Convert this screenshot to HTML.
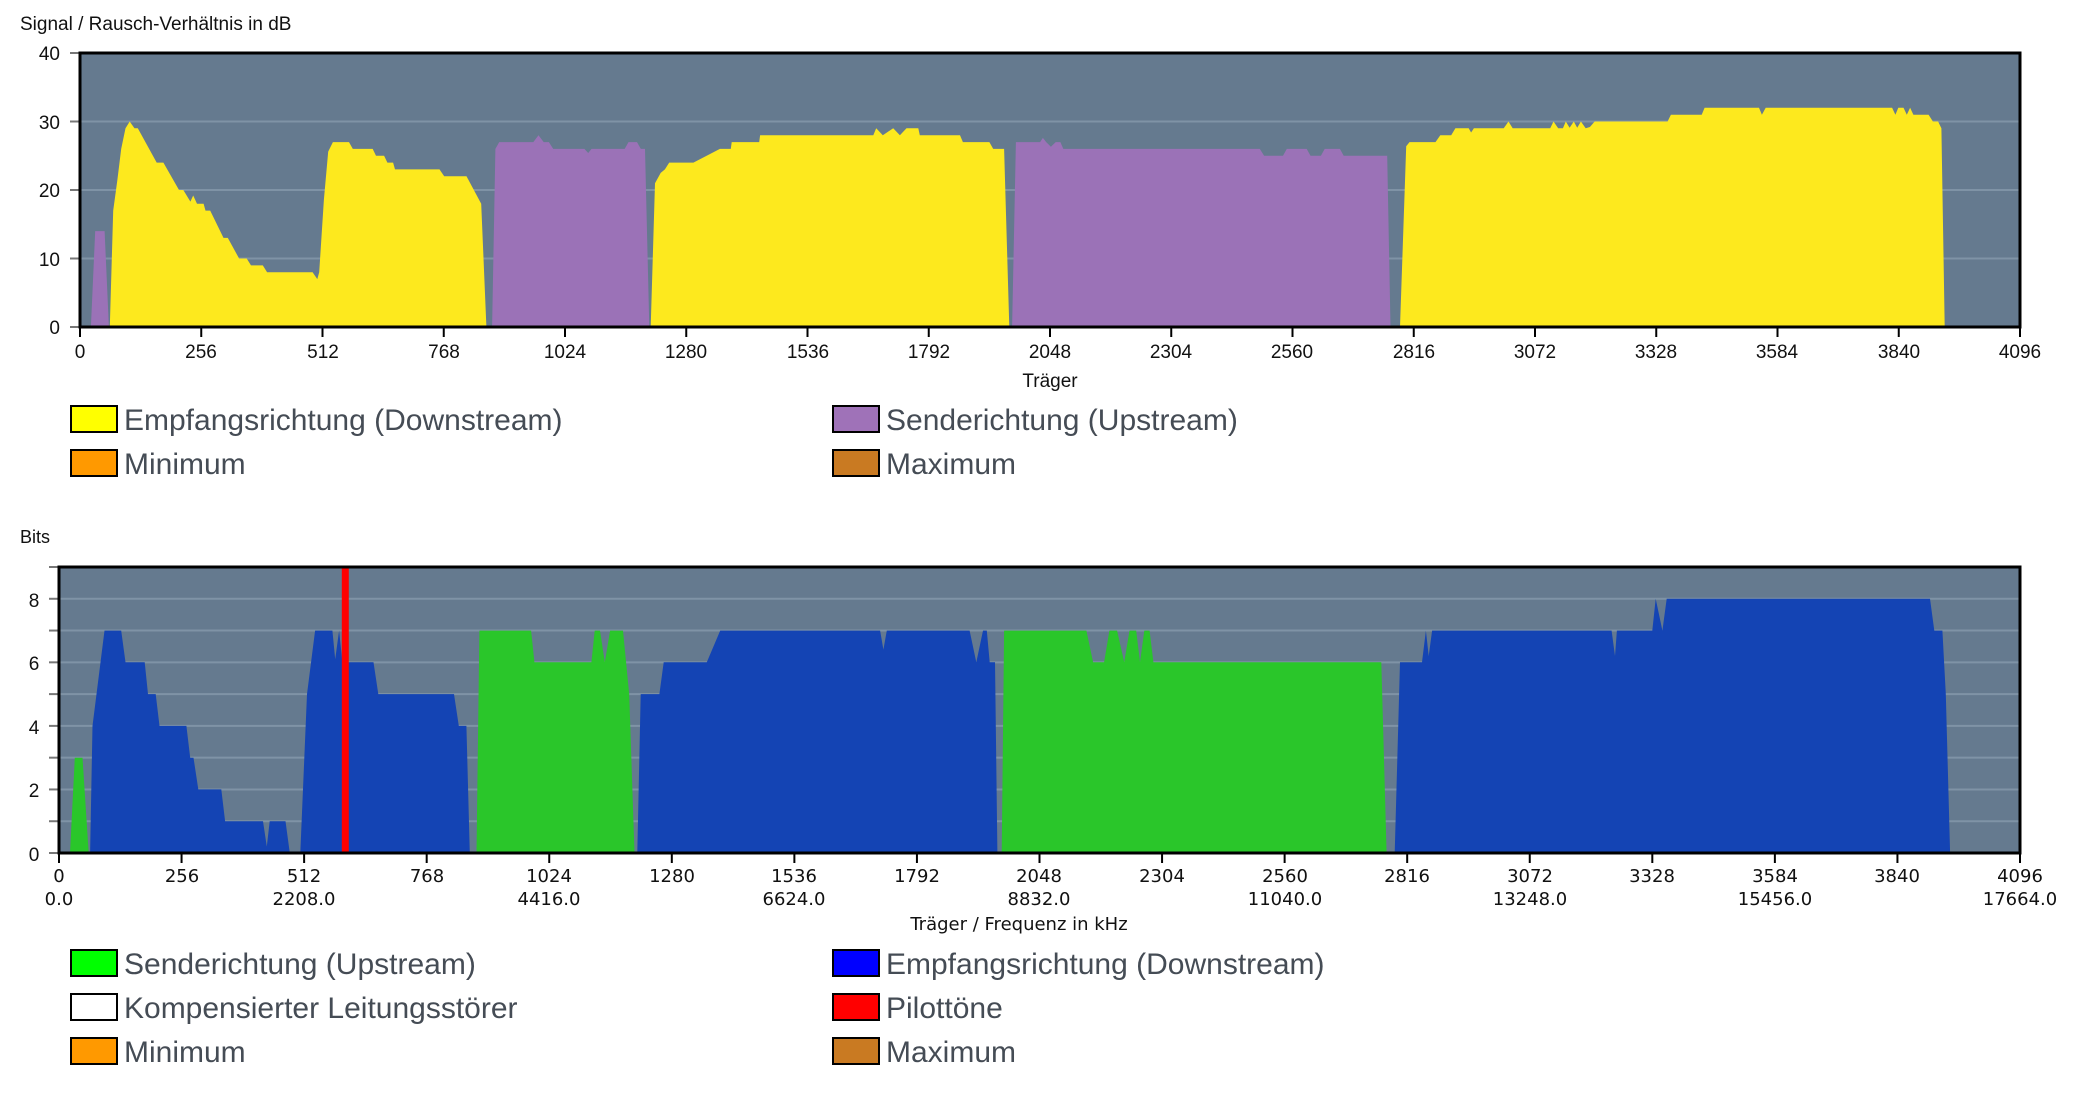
<!DOCTYPE html>
<html><head><meta charset="utf-8">
<style>
html,body{margin:0;padding:0;background:#fff;}
svg{display:block;font-family:"Liberation Sans",sans-serif;}
.t{font-size:19px;fill:#111;}
.b{font-family:"DejaVu Sans","Liberation Sans",sans-serif;font-size:18px;fill:#111;}
.lg{font-size:30px;fill:#454c55;}
</style></head><body>
<svg id="s" width="2090" height="1108" viewBox="0 0 2090 1108" xmlns="http://www.w3.org/2000/svg">
<text x="20" y="30" class="t" style="font-size:19px">Signal / Rausch-Verhältnis in dB</text>
<rect x="80" y="53" width="1940" height="274" fill="#657a8f"/>
<g id="g1"></g>
<g id="p1"></g>
<rect x="80" y="53" width="1940" height="274" fill="none" stroke="#000" stroke-width="3"/>
<g class="t" text-anchor="end">
<text x="60" y="60">40</text><text x="60" y="129">30</text><text x="60" y="197">20</text><text x="60" y="266">10</text><text x="60" y="334">0</text>
</g>
<g class="t" text-anchor="middle">
<text x="80" y="358">0</text><text x="201" y="358">256</text><text x="323" y="358">512</text><text x="444" y="358">768</text><text x="565" y="358">1024</text><text x="686" y="358">1280</text><text x="808" y="358">1536</text><text x="929" y="358">1792</text><text x="1050" y="358">2048</text><text x="1171" y="358">2304</text><text x="1292" y="358">2560</text><text x="1414" y="358">2816</text><text x="1535" y="358">3072</text><text x="1656" y="358">3328</text><text x="1777" y="358">3584</text><text x="1899" y="358">3840</text><text x="2020" y="358">4096</text>
<text x="1050" y="387">Träger</text>
</g>
<rect x="71" y="406" width="46" height="26" fill="#ffff00" stroke="#000" stroke-width="2"/>
<text x="124" y="430" class="lg">Empfangsrichtung (Downstream)</text>
<rect x="71" y="450" width="46" height="26" fill="#ff9900" stroke="#000" stroke-width="2"/>
<text x="124" y="474" class="lg">Minimum</text>
<rect x="833" y="406" width="46" height="26" fill="#9f72b8" stroke="#000" stroke-width="2"/>
<text x="886" y="430" class="lg">Senderichtung (Upstream)</text>
<rect x="833" y="450" width="46" height="26" fill="#c97a22" stroke="#000" stroke-width="2"/>
<text x="886" y="474" class="lg">Maximum</text>

<text x="20" y="543" class="t" style="font-size:18px">Bits</text>
<rect x="59" y="567" width="1961" height="286" fill="#657a8f"/>
<g id="g2"></g>
<g id="p2"></g>
<rect x="59" y="567" width="1961" height="286" fill="none" stroke="#000" stroke-width="3"/>
<g class="t" text-anchor="middle">
<text x="34" y="607">8</text><text x="34" y="670">6</text><text x="34" y="734">4</text><text x="34" y="797">2</text><text x="34" y="861">0</text>
</g>
<g class="b" text-anchor="middle">
<text x="59" y="882">0</text><text x="182" y="882">256</text><text x="304" y="882">512</text><text x="427" y="882">768</text><text x="549" y="882">1024</text><text x="672" y="882">1280</text><text x="794" y="882">1536</text><text x="917" y="882">1792</text><text x="1039" y="882">2048</text><text x="1162" y="882">2304</text><text x="1285" y="882">2560</text><text x="1407" y="882">2816</text><text x="1530" y="882">3072</text><text x="1652" y="882">3328</text><text x="1775" y="882">3584</text><text x="1897" y="882">3840</text><text x="2020" y="882">4096</text>
<text x="59" y="905">0.0</text><text x="304" y="905">2208.0</text><text x="549" y="905">4416.0</text><text x="794" y="905">6624.0</text><text x="1039" y="905">8832.0</text><text x="1285" y="905">11040.0</text><text x="1530" y="905">13248.0</text><text x="1775" y="905">15456.0</text><text x="2020" y="905">17664.0</text>
<text x="1019" y="930">Träger / Frequenz in kHz</text>
</g>
<rect x="71" y="950" width="46" height="26" fill="#00ff00" stroke="#000" stroke-width="2"/>
<text x="124" y="974" class="lg">Senderichtung (Upstream)</text>
<rect x="71" y="994" width="46" height="26" fill="#ffffff" stroke="#000" stroke-width="2"/>
<text x="124" y="1018" class="lg">Kompensierter Leitungsstörer</text>
<rect x="71" y="1038" width="46" height="26" fill="#ff9900" stroke="#000" stroke-width="2"/>
<text x="124" y="1062" class="lg">Minimum</text>
<rect x="833" y="950" width="46" height="26" fill="#0000ff" stroke="#000" stroke-width="2"/>
<text x="886" y="974" class="lg">Empfangsrichtung (Downstream)</text>
<rect x="833" y="994" width="46" height="26" fill="#ff0000" stroke="#000" stroke-width="2"/>
<text x="886" y="1018" class="lg">Pilottöne</text>
<rect x="833" y="1038" width="46" height="26" fill="#c97a22" stroke="#000" stroke-width="2"/>
<text x="886" y="1062" class="lg">Maximum</text>
</svg>
<script>
var NS="http://www.w3.org/2000/svg";
function el(p,n,a){var e=document.createElementNS(NS,n);for(var k in a)e.setAttribute(k,a[k]);document.getElementById(p).appendChild(e);}
var T={x0:80,x1:2020,y0:327,yt:53,max:40};
var B={x0:59,x1:2020,y0:853,yt:567,max:9};
function px(C,c){return C.x0+c*(C.x1-C.x0)/4096;}
function py(C,v){return C.y0-v*(C.y0-C.yt)/C.max;}
function poly(g,C,pts,col){var s=pts.map(function(p){return px(C,p[0]).toFixed(1)+","+py(C,p[1]).toFixed(1);}).join(" ");el(g,"polygon",{points:s,fill:col});}
[10,20,30].forEach(function(v){el("g1","line",{x1:80,x2:2020,y1:py(T,v),y2:py(T,v),stroke:"#7f93a6","stroke-width":2});});
for(var v=1;v<9;v++)el("g2","line",{x1:59,x2:2020,y1:py(B,v),y2:py(B,v),stroke:"#7f93a6","stroke-width":2});
for(var i=0;i<=16;i++){el("g1","line",{x1:px(T,i*256),x2:px(T,i*256),y1:327,y2:337,stroke:"#000","stroke-width":2});el("g2","line",{x1:px(B,i*256),x2:px(B,i*256),y1:853,y2:863,stroke:"#000","stroke-width":2});}
[0,10,20,30,40].forEach(function(v){el("g1","line",{x1:70,x2:80,y1:py(T,v),y2:py(T,v),stroke:"#777","stroke-width":2});});
for(var v=0;v<=9;v++)el("g2","line",{x1:49,x2:59,y1:py(B,v),y2:py(B,v),stroke:"#777","stroke-width":2});
var Y="#fde91e",P="#9b72b7",BL="#1444b4",G="#2ac62a";
poly("p1",T,[[23,0],[32,14],[52,14],[61,0]],P);
poly("p1",T,[[63,0],[70,17],[79,21.5],[87,26],[96,29],[105,30],[115,29],[122,29],[162,24],[176,24],[209,20],[218,20],[233,18.3],[239,19.2],[247,18],[261,18],[265,17],[275,17],[303,13],[312,13],[336,10],[352,10],[361,9],[386,9],[395,8],[491,8],[501,7],[505,8],[515,18.6],[524,25.6],[534,27],[568,27],[576,26],[618,26],[625,25],[642,25],[649,24],[661,24],[665,23],[759,23],[769,22],[816,22],[847,18],[858,0]],Y);
poly("p1",T,[[870,0],[877,26],[885,27],[957,27],[968,28],[979,27],[990,27],[999,26],[1065,26],[1073,25.4],[1080,26],[1150,26],[1158,27],[1176,27],[1184,26],[1193,26],[1202,0]],P);
poly("p1",T,[[1205,0],[1214,21],[1226,22.5],[1235,23],[1244,24],[1295,24],[1351,26],[1374,26],[1376,27],[1434,27],[1436,28],[1675,28],[1681,29],[1695,28],[1717,29],[1731,28],[1745,29],[1770,29],[1773,28],[1858,28],[1864,27],[1920,27],[1928,26],[1951,26],[1962,0]],Y);
poly("p1",T,[[1968,0],[1976,27],[2027,27],[2033,27.6],[2040,27],[2050,26.3],[2060,27],[2070,27],[2076,26],[2491,26],[2500,25],[2540,25],[2548,26],[2590,26],[2598,25],[2620,25],[2628,26],[2660,26],[2668,25],[2760,25],[2767,0]],P);
poly("p1",T,[[2787,0],[2800,26.4],[2807,27],[2862,27],[2872,28],[2895,28],[2904,29],[2932,29],[2937,28.4],[2943,29],[3006,29],[3016,30],[3025,29],[3104,29],[3111,30],[3121,29],[3131,29],[3137,30],[3145,29.1],[3154,30],[3161,29.1],[3169,30],[3179,29],[3188,29.2],[3198,30],[3352,30],[3359,31],[3424,31],[3430,32],[3545,32],[3551,31],[3559,32],[3826,32],[3833,31],[3839,32],[3850,32],[3857,31],[3864,32],[3871,31],[3903,31],[3912,30],[3923,30],[3930,29],[3937,0]],Y);
poly("p2",B,[[23,0],[33,3],[49,3],[62,0]],G);
poly("p2",B,[[65,0],[70,4],[95,7],[130,7],[139,6],[179,6],[186,5],[202,5],[210,4],[266,4],[274,3],[281,3],[291,2],[339,2],[347,1],[426,1],[434,0.2],[440,1],[473,1],[482,0]],BL);
poly("p2",B,[[504,0],[518,5],[535,7],[571,7],[577,6.1],[585,7],[592,6],[657,6],[667,5],[825,5],[835,4],[851,4],[858,0]],BL);
poly("p2",B,[[872,0],[878,7],[986,7],[993,6],[1112,6],[1119,7],[1130,7],[1140,6],[1151,7],[1178,7],[1191,5],[1202,0]],G);
poly("p2",B,[[1208,0],[1215,5],[1254,5],[1263,6],[1353,6],[1381,7],[1715,7],[1722,6.4],[1729,7],[1902,7],[1916,6],[1930,7],[1938,7],[1944,6],[1955,6],[1960,0]],BL);
poly("p2",B,[[1969,0],[1974,7],[2146,7],[2160,6],[2183,6],[2194,7],[2210,7],[2225,6],[2236,7],[2250,7],[2258,6],[2267,7],[2278,7],[2286,6],[2762,6],[2773,0]],G);
poly("p2",B,[[2790,0],[2801,6],[2847,6],[2855,7],[2861,6.2],[2868,7],[3243,7],[3250,6.2],[3254,7],[3328,7],[3335,8],[3349,7],[3358,8],[3908,8],[3917,7],[3934,7],[3941,5],[3950,0]],BL);
el("p2","rect",{x:px(B,598)-3.5,y:567,width:7,height:286,fill:"#ff0000"});
</script>
</body></html>
